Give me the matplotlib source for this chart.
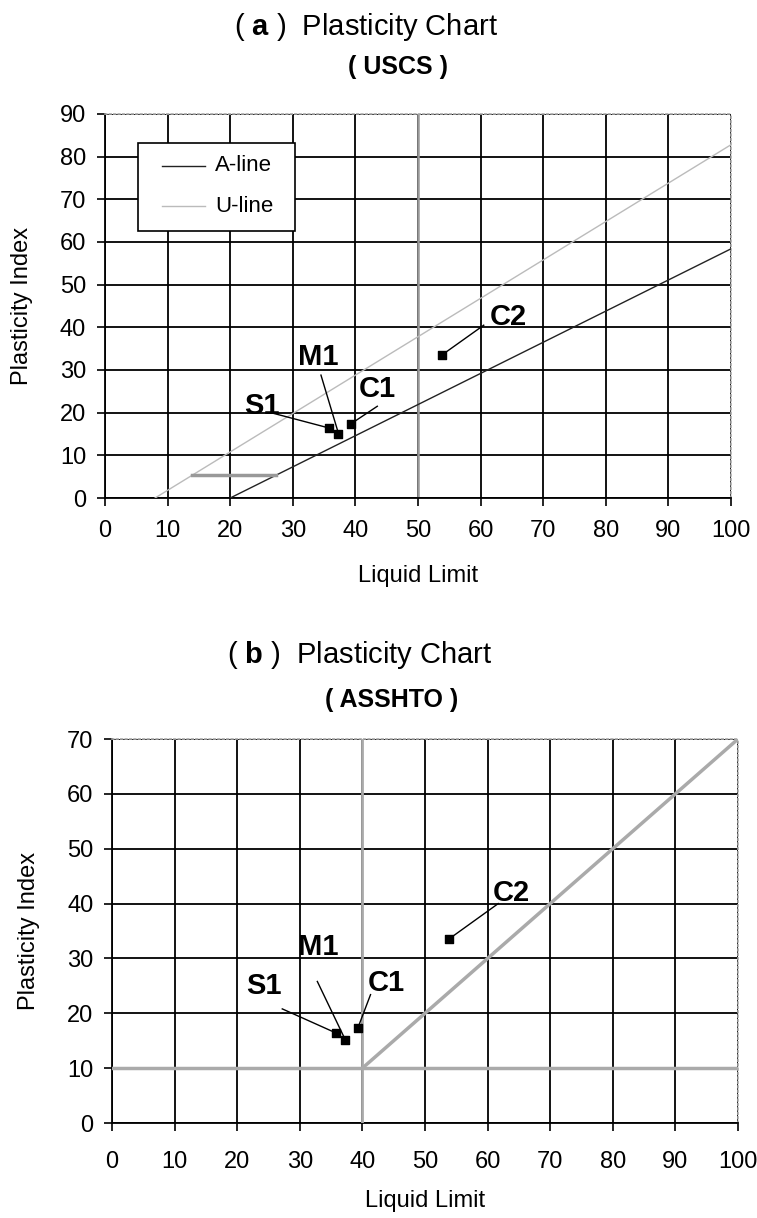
import matplotlib
matplotlib.use('Agg')
import matplotlib.pyplot as plt
from matplotlib import font_manager
from matplotlib.patches import Rectangle

names = {f.name for f in font_manager.fontManager.ttflist}
narrow = 'Liberation Sans Narrow' in names
base_font = 'Liberation Sans Narrow' if narrow else 'Liberation Sans'
plt.rcParams['font.family'] = [base_font, 'Liberation Sans', 'DejaVu Sans']
plt.rcParams['mathtext.fontset'] = 'custom'
plt.rcParams['mathtext.rm'] = base_font
plt.rcParams['mathtext.bf'] = base_font + ':bold'
k = 1.12 if narrow else 1.0

# Soil samples (LL, PI)
samples = ['S1', 'M1', 'C1', 'C2']
liquid_limit = [35.8, 37.3, 39.3, 53.9]
plasticity_index = [16.4, 15.1, 17.4, 33.6]

# label text positions (LL, PI) and leader starts
usc_label_pos = [(25.0, 21.5), (34.0, 33.0), (43.5, 25.5), (64.5, 42.5)]
usc_leader_start = [(26.5, 20.0), (34.5, 28.8), (43.5, 21.5), (60.5, 40.5)]
aas_label_pos = [(24.2, 25.0), (33.0, 32.0), (43.8, 25.5), (63.8, 42.0)]
aas_leader_start = [(27.2, 20.8), (32.8, 25.8), (41.3, 23.4), (61.7, 40.0)]

# USCS lines
a_line_ll = [20, 100]
a_line_pi = [0, 0.73 * 80]
u_line_ll = [8, 100]
u_line_pi = [0, 0.9 * 92]
cl_ml_ll = [13.9, 27.3]
cl_ml_pi = [5.5, 5.5]

# AASHTO boundary lines
ash_h_ll = [0, 100]
ash_h_pi = [10, 10]
ash_v_ll = [40, 40]
ash_v_pi = [0, 70]
ash_d_ll = [40, 100]
ash_d_pi = [10, 70]

fig = plt.figure(figsize=(7.57, 12.18), dpi=100)
W, H = 757, 1218


def make_axes(l, r, t, b):
    return fig.add_axes([l / W, 1 - b / H, (r - l) / W, (b - t) / H])


def style(ax, ymax, xpad):
    ax.set_xlim(0, 100)
    ax.set_ylim(0, ymax)
    ax.set_xticks(range(0, 101, 10))
    ax.set_yticks(range(0, ymax + 1, 10))
    ax.grid(True, color='black', linewidth=1.3, zorder=0)
    ax.set_axisbelow(True)
    for s in ['top', 'right']:
        ax.spines[s].set_color('#aaaaaa')
        ax.spines[s].set_linestyle(':')
        ax.spines[s].set_linewidth(1.2)
    ax.spines['left'].set_linewidth(1.3)
    ax.spines['bottom'].set_linewidth(1.3)
    ax.tick_params(axis='both', labelsize=17 * k, length=5.5, width=1.2, colors='black')
    ax.tick_params(axis='x', pad=xpad)
    ax.tick_params(axis='y', pad=8)
    ax.set_xlabel('Liquid Limit', fontsize=17 * k)
    ax.set_ylabel('Plasticity Index', fontsize=17 * k, va='center')
    ax.xaxis.set_label_coords(0.5, -0.175)
    ax.yaxis.set_label_coords(-0.133, 0.5)


def annotate(ax, label_pos, leader_start):
    ax.scatter(liquid_limit, plasticity_index, marker='s', s=36, color='black', zorder=5)
    for name, x, y, lp, ls in zip(samples, liquid_limit, plasticity_index, label_pos, leader_start):
        ax.text(lp[0], lp[1], name, fontsize=21 * k, fontweight='bold' if not narrow else 'normal',
                ha='center', va='center', zorder=6)
        ax.plot([ls[0], x], [ls[1], y], color='black', linewidth=1.0, zorder=4)


# (a) USCS
ax1 = make_axes(105, 731, 114, 498)
style(ax1, 90, 10)
ax1.axvline(50, color='#999999', linewidth=1.8, zorder=2)
ax1.plot(a_line_ll, a_line_pi, color='#222222', linewidth=1.0, zorder=3)
ax1.plot(u_line_ll, u_line_pi, color='#bbbbbb', linewidth=1.0, zorder=3)
ax1.plot(cl_ml_ll, cl_ml_pi, color='#999999', linewidth=2.5, zorder=3)
annotate(ax1, usc_label_pos, usc_leader_start)

# legend box drawn by hand to match the spacing of the original
ax1.add_patch(Rectangle((0.053, 0.695), 0.251, 0.229, transform=ax1.transAxes,
                        facecolor='white', edgecolor='black', linewidth=1.2, zorder=7))
for yy, col, lab in [(0.865, '#222222', 'A-line'), (0.760, '#bbbbbb', 'U-line')]:
    ax1.plot([0.091, 0.160], [yy, yy], color=col, linewidth=1.0, transform=ax1.transAxes, zorder=8)
    ax1.text(0.176, yy, lab, fontsize=16 * k, ha='left', va='center', transform=ax1.transAxes, zorder=8)

fig.text(366 / W, 1 - 27 / H, r'( $\mathbf{a}$ )  Plasticity Chart', fontsize=21 * k, ha='center', va='center')
fig.text(398 / W, 1 - 67 / H, '( USCS )', fontsize=18 * k, fontweight='bold', ha='center', va='center')

# (b) AASHTO
ax2 = make_axes(112, 738, 739, 1123)
style(ax2, 70, 15)
ax2.plot(ash_h_ll, ash_h_pi, color='#aaaaaa', linewidth=2.5, zorder=3)
ax2.plot(ash_v_ll, ash_v_pi, color='#aaaaaa', linewidth=2.0, zorder=3)
ax2.plot(ash_d_ll, ash_d_pi, color='#aaaaaa', linewidth=2.5, zorder=3)
annotate(ax2, aas_label_pos, aas_leader_start)
fig.text(360 / W, 1 - 655 / H, r'( $\mathbf{b}$ )  Plasticity Chart', fontsize=21 * k, ha='center', va='center')
fig.text(392 / W, 1 - 700 / H, '( ASSHTO )', fontsize=18 * k, fontweight='bold', ha='center', va='center')

fig.savefig('out.png', dpi=100)
